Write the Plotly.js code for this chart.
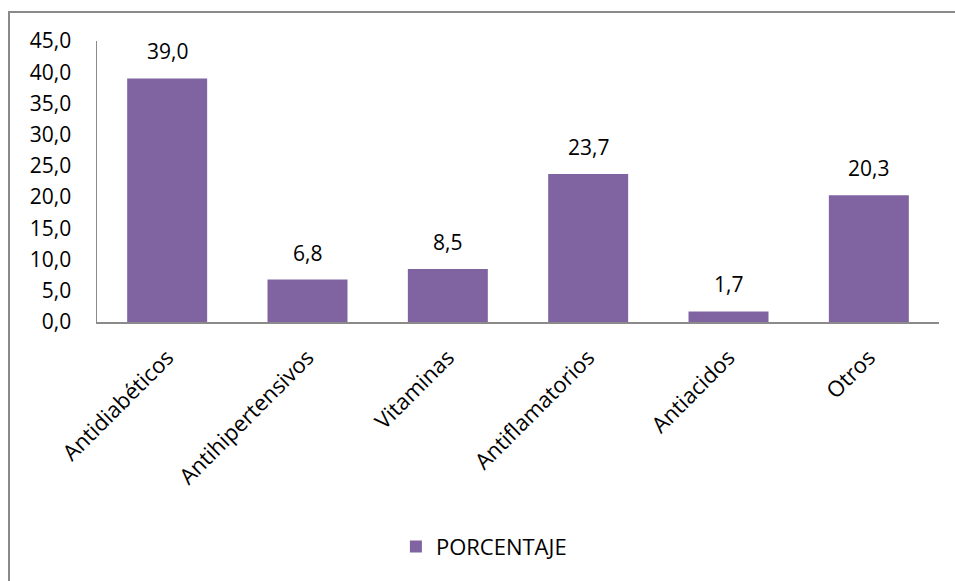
<!DOCTYPE html>
<html>
<head>
<meta charset="utf-8">
<script src="https://cdn.plot.ly/plotly-3.0.1.min.js"></script>
<style>
  html, body { margin: 0; padding: 0; background: #fff; }
  #wrap { position: relative; width: 955px; height: 581px; }
  #chart { width: 955px; height: 581px; }
  #frame { position: absolute; left: 8px; top: 11px; right: -2px; bottom: -2px;
           border-left: 2px solid #8a8a8a; border-top: 2px solid #8a8a8a; pointer-events: none; }
</style>
</head>
<body>
<div id="wrap">
  <div id="chart"></div>
  <div id="frame"></div>
</div>
<script>
const categories = ["Antidiabéticos", "Antihipertensivos", "Vitaminas", "Antiflamatorios", "Antiacidos", "Otros"];
const porcentaje = [39.0, 6.8, 8.5, 23.7, 1.7, 20.3];
const seriesName = "PORCENTAJE";

const FONT = "Open Sans, sans-serif";
const barColor = "#8064A2";

const trace = {
  type: "bar",
  x: categories,
  y: porcentaje,
  name: seriesName,
  marker: { color: barColor },
  hoverinfo: "none"
};

const annotations = categories.map((c, i) => ({
  x: c, y: porcentaje[i], xref: "x", yref: "y",
  text: porcentaje[i].toFixed(1).replace(".", ","),
  showarrow: false, yanchor: "bottom", yshift: 11,
  font: { family: FONT, size: 21, color: "#000" }
}));

const layout = {
  width: 955, height: 581,
  margin: { l: 97, r: 16, t: 41, b: 259 },
  paper_bgcolor: "#fff", plot_bgcolor: "#fff",
  separators: ",.",
  bargap: 0.43,
  showlegend: true,
  legend: {
    orientation: "h", x: 0.355, xanchor: "left", y: -0.80, yanchor: "middle",
    font: { family: FONT, size: 22, color: "#000" }
  },
  xaxis: {
    type: "category",
    showline: true, linecolor: "#8a8a8a", linewidth: 2,
    showgrid: false, ticks: "", tickangle: -45,
    ticklabelstandoff: 12,
    tickfont: { family: FONT, size: 22, color: "#000" }
  },
  yaxis: {
    range: [0, 45], dtick: 5, tick0: 0, tickformat: ".1f",
    showline: true, linecolor: "#8a8a8a", linewidth: 1.5,
    showgrid: false, zeroline: false, ticks: "",
    ticklabelstandoff: 20,
    tickfont: { family: FONT, size: 21, color: "#000" }
  },
  annotations: annotations
};

Plotly.newPlot("chart", [trace], layout, { displayModeBar: false, staticPlot: true });
</script>
</body>
</html>
